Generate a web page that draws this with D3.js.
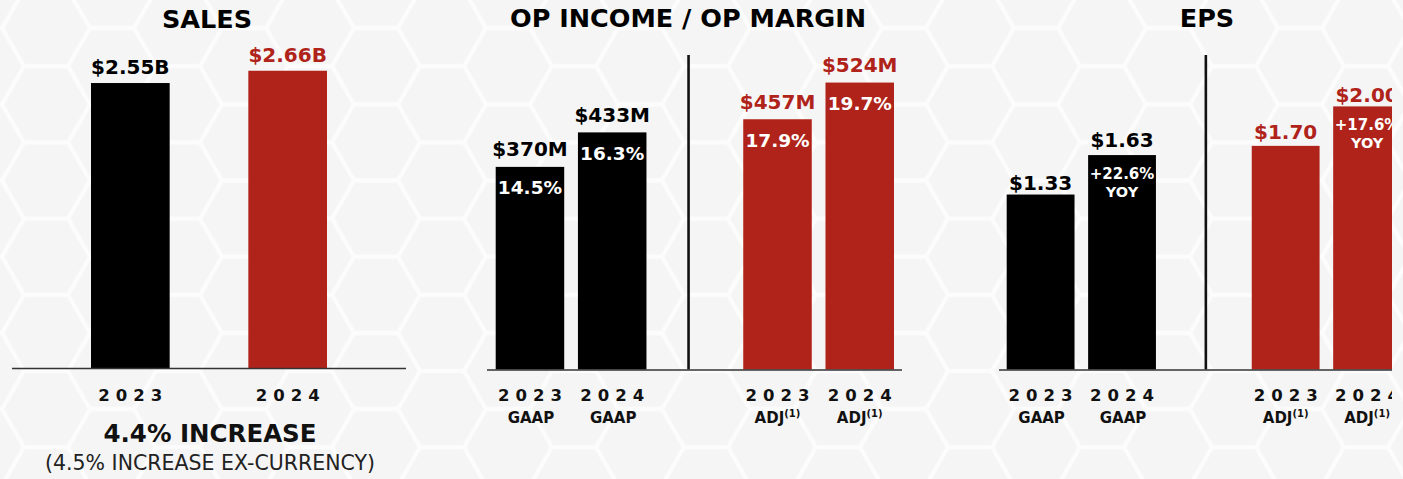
<!DOCTYPE html>
<html><head><meta charset="utf-8">
<script src="https://cdn.jsdelivr.net/npm/d3@7"></script>
<style>html,body{margin:0;padding:0;background:#f6f6f6;overflow:hidden}svg{display:block}</style>
</head><body><svg id="c" width="1403" height="479"></svg>
<script>
// ---------- data ----------
const salesYears = ["2023", "2024"];
const salesValues = [2.55, 2.66];
const salesLabels = ["$2.55B", "$2.66B"];
const salesNote = "4.4% INCREASE";
const salesSubNote = "(4.5% INCREASE EX-CURRENCY)";

const groups = ["GAAP", "ADJ"];
const years = ["2023", "2024"];

const opValues = [[370, 433], [457, 524]];
const opLabels = [["$370M", "$433M"], ["$457M", "$524M"]];
const opMargins = [["14.5%", "16.3%"], ["17.9%", "19.7%"]];

const epsValues = [[1.33, 1.63], [1.70, 2.00]];
const epsLabels = [["$1.33", "$1.63"], ["$1.70", "$2.00"]];
const epsYoy = [[null, "+22.6%"], [null, "+17.6%"]];

const titles = ["SALES", "OP INCOME / OP MARGIN", "EPS"];

// ---------- setup ----------
const BLACK = "#000000", RED = "#b0231a";
const FONT = "'DejaVu Sans', Verdana, sans-serif";
const svg = d3.select("#c");
const defs = svg.append("defs");

// background hexagon pattern
const r = 44, hh = Math.sqrt(3) * r;
const pat = defs.append("pattern").attr("id", "hex").attr("patternUnits", "userSpaceOnUse")
  .attr("width", 3 * r).attr("height", hh).attr("x", -20).attr("y", -10);
pat.append("rect").attr("width", 3 * r).attr("height", hh).attr("fill", "#fcfcfc");
const hexPath = (cx, cy) => {
  const pts = d3.range(6).map(i => [cx + (r - 2.5) * Math.cos(i * Math.PI / 3), cy + (r - 2.5) * Math.sin(i * Math.PI / 3)]);
  return "M" + pts.map(p => p.join(",")).join("L") + "Z";
};
[[0, 0], [3 * r, 0], [0, hh], [3 * r, hh], [1.5 * r, hh / 2]].forEach(([cx, cy]) => {
  pat.append("path").attr("d", hexPath(cx, cy)).attr("fill", "#f5f5f5");
});
svg.append("rect").attr("width", 1403).attr("height", 479).attr("fill", "url(#hex)");

defs.append("clipPath").attr("id", "clipR").append("rect").attr("x", 0).attr("y", 0).attr("width", 1392).attr("height", 479);

function boldText(g, x, y, txt, size, color, opts = {}) {
  const t = g.append("text").attr("x", x).attr("y", y).attr("text-anchor", "middle")
    .attr("font-family", FONT).attr("font-weight", opts.weight || "bold")
    .attr("font-size", size).attr("fill", color).text(txt);
  if (opts.len) t.attr("textLength", opts.len).attr("lengthAdjust", opts.adj || "spacing");
  return t;
}

// ---------- SALES ----------
{
  const g = svg.append("g");
  const baseY = 368;
  const x = d3.scaleBand().domain(salesYears).range([91, 327]).paddingInner(0.5).paddingOuter(0);
  const y = d3.scaleLinear().domain([0, 3]).range([baseY, baseY - 3 * 111.75]);
  const col = i => i === 0 ? BLACK : RED;

  boldText(g, 207, 28, titles[0], 25.5, "#000");

  g.selectAll("rect.bar").data(salesValues).join("rect").attr("class", "bar")
    .attr("x", (d, i) => x(salesYears[i])).attr("width", x.bandwidth())
    .attr("y", d => y(d)).attr("height", d => y(0) - y(d)).attr("fill", (d, i) => col(i));

  salesValues.forEach((d, i) => {
    boldText(g, x(salesYears[i]) + x.bandwidth() / 2, y(d) - 9, salesLabels[i], 20, col(i));
    boldText(g, x(salesYears[i]) + x.bandwidth() / 2, 400.5, salesYears[i], 16.5, "#111", { len: 64 });
  });

  g.append("line").attr("x1", 12).attr("x2", 406).attr("y1", baseY + 0.5).attr("y2", baseY + 0.5)
    .attr("stroke", "#333").attr("stroke-width", 1.5);

  boldText(g, 210, 442, salesNote, 24, "#111", { len: 213, adj: "spacingAndGlyphs" });
  boldText(g, 210, 470, salesSubNote, 22, "#222", { weight: "normal", len: 330, adj: "spacingAndGlyphs" });
}

// ---------- grouped panels ----------
function groupedPanel(opts) {
  const g = svg.append("g");
  if (opts.clip) g.attr("clip-path", "url(#clipR)");
  const baseY = 369.5;
  const gx = d3.scaleBand().domain(groups).range(opts.xRange).paddingInner(0.391).paddingOuter(0);
  const ix = d3.scaleBand().domain(years).range([0, gx.bandwidth()]).paddingInner(0.167).paddingOuter(0);
  const y = d3.scaleLinear().domain([0, opts.max]).range([baseY, baseY - opts.max * opts.ppu]);

  boldText(g, opts.titleX, 27, opts.title, 25.5, "#000");

  // divider
  const divX = (gx("GAAP") + gx.bandwidth() + gx("ADJ")) / 2 + opts.divOffset;
  g.append("line").attr("x1", divX).attr("x2", divX).attr("y1", 55).attr("y2", baseY)
    .attr("stroke", "#111").attr("stroke-width", 2.6);

  groups.forEach((grp, gi) => {
    const color = gi === 0 ? BLACK : RED;
    const gg = g.append("g").attr("transform", `translate(${gx(grp)},0)`);
    gg.selectAll("rect").data(opts.values[gi]).join("rect")
      .attr("x", (d, i) => ix(years[i])).attr("width", ix.bandwidth())
      .attr("y", d => y(d)).attr("height", d => y(0) - y(d)).attr("fill", color);
    opts.values[gi].forEach((d, i) => {
      const cx = ix(years[i]) + ix.bandwidth() / 2;
      boldText(gg, cx, y(d) - opts.labelGap[gi][i], opts.labels[gi][i], 20, color);
      opts.inner(gg, cx, y(d), gi, i);
      boldText(gg, cx, 400.5, years[i], 16.5, "#111", { len: 64 });
      const t = boldText(gg, cx + (gi === 0 ? 1 : 0), 422.5, grp, 15, "#111");
      if (gi === 1) {
        t.append("tspan").attr("font-size", 10).attr("dy", -6).text("(1)");
      }
    });
  });

  g.append("line").attr("x1", opts.baseX[0]).attr("x2", opts.baseX[1]).attr("y1", baseY + 0.5).attr("y2", baseY + 0.5)
    .attr("stroke", "#333").attr("stroke-width", 1.5);
}

groupedPanel({
  title: titles[1], titleX: 688, xRange: [495.7, 894], max: 600, ppu: 0.5476,
  values: opValues, labels: opLabels, labelGap: [[10.5, 10.5], [10.5, 10.5]],
  divOffset: -6.3, baseX: [487, 902],
  inner: (gg, cx, top, gi, i) => boldText(gg, cx, top + 27.5, opMargins[gi][i], 18.5, "#fff")
});

groupedPanel({
  title: titles[2], titleX: 1207, xRange: [1006.7, 1401], max: 2.5, ppu: 131.55, clip: true,
  values: epsValues, labels: epsLabels, labelGap: [[4.3, 8.3], [6.4, 4.3]],
  divOffset: 2, baseX: [999, 1403],
  inner: (gg, cx, top, gi, i) => {
    const v = epsYoy[gi][i];
    if (v) {
      boldText(gg, cx, top + 23.5, v, 15, "#fff");
      boldText(gg, cx, top + 42, "YOY", 14.5, "#fff");
    }
  }
});
</script>
</body></html>
